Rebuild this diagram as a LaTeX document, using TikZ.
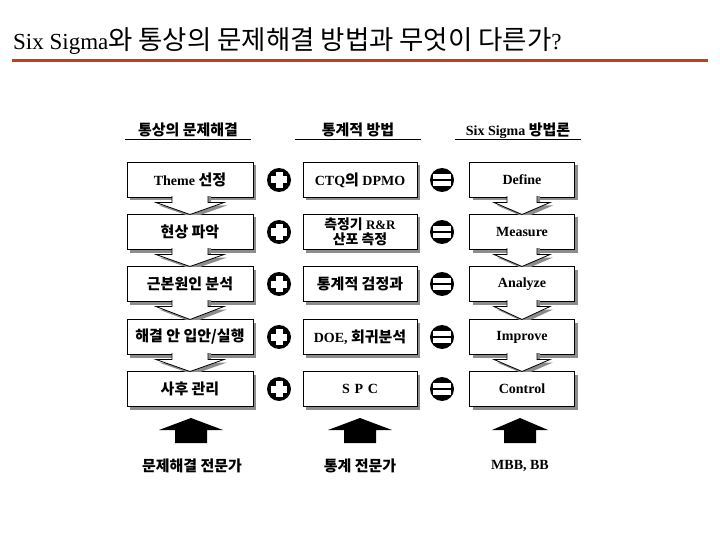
\documentclass[tikz,border=0pt]{standalone}
\usepackage{fontspec}
\setmainfont{Liberation Serif}
\newfontfamily\kr[Scale=1.07]{Noto Sans CJK KR}
\usepackage{tikz}
\usetikzlibrary{positioning,shadows}
\definecolor{titlerule}{RGB}{192,64,24}
\definecolor{shadegray}{RGB}{140,140,140}

\tikzset{
  stepbox/.style={draw, fill=white, line width=0.8pt, minimum height=35pt,
    align=center, inner sep=2pt, font=\fontsize{14}{15}\selectfont\bfseries,
    drop shadow={shadow xshift=3pt,shadow yshift=-3pt,fill=shadegray,opacity=1}},
  leftbox/.style={stepbox, minimum width=126pt},
  midbox/.style={stepbox, minimum width=114pt},
  rightbox/.style={stepbox, minimum width=105pt},
  chevron/.style={draw, fill=white, line width=0.8pt,
    drop shadow={shadow xshift=3pt,shadow yshift=-3pt,fill=shadegray,opacity=1}},
  colhead/.style={font=\fontsize{14}{15}\selectfont\bfseries, minimum width=126pt,
    inner xsep=0pt, inner ysep=2pt, text height=11pt, text depth=2pt},
  expert/.style={font=\fontsize{14}{15}\selectfont\bfseries},
  plusop/.style={circle, fill=black, minimum size=24pt, inner sep=0pt,
    path picture={
      \fill[white] ([shift={(-8pt,-3.5pt)}]path picture bounding box.center)
        rectangle ([shift={(8pt,3.5pt)}]path picture bounding box.center);
      \fill[white] ([shift={(-3.5pt,-8pt)}]path picture bounding box.center)
        rectangle ([shift={(3.5pt,8pt)}]path picture bounding box.center);}},
  equalop/.style={circle, fill=black, minimum size=24pt, inner sep=0pt,
    path picture={
      \fill[white] ([shift={(-9pt,-6pt)}]path picture bounding box.center)
        rectangle ([shift={(9pt,6pt)}]path picture bounding box.center);
      \fill[black] ([shift={(-9pt,-1pt)}]path picture bounding box.center)
        rectangle ([shift={(9pt,1pt)}]path picture bounding box.center);}}
}

\begin{document}
\begin{tikzpicture}[x=1pt,y=-1pt]
\useasboundingbox[fill=white] (0,0) rectangle (720,540);

% title and rule
\node[anchor=base west, inner sep=0pt, font=\fontsize{23}{28}\selectfont] (title) at (13,50)
  {Six Sigma{\kr\fontsize{24.7}{28}\selectfont 와 통상의 문제해결 방법과 무엇이 다른가}?};
\draw[titlerule, line width=3.5pt] (12,60.5) -- (708,60.5);

% column heads
\node[colhead] (head1) at (188,131) {\kr 통상의 문제해결};
\node[colhead] (head2) at (358,131) {\kr 통계적 방법};
\node[colhead] (head3) at (518,131) {Six Sigma {\kr 방법론}};
\foreach \h in {head1,head2,head3}
  \draw[line width=0.8pt] (\h.south west) -- (\h.south east);

% usual problem solving
\node[leftbox] (usual1) at (190,180) {Theme {\kr 선정}};
\node[leftbox] (usual2) at (190,232) {\kr 현상 파악};
\node[leftbox] (usual3) at (190,284) {\kr 근본원인 분석};
\node[leftbox] (usual4) at (190,337) {\kr 해결 안 입안/실행};
\node[leftbox] (usual5) at (190,389) {\kr 사후 관리};

% statistical methods
\node[midbox] (stat1) at (360,180) {CTQ{\kr 의} DPMO};
\node[midbox, font=\fontsize{13}{15.5}\selectfont\bfseries] (stat2) at (360,232)
  {{\kr 측정기} R\&R\\{\kr 산포 측정}};
\node[midbox] (stat3) at (360,284) {\kr 통계적 검정과};
\node[midbox] (stat4) at (360,337) {DOE, {\kr 회귀분석}};
\node[midbox] (stat5) at (360,389) {S\,\,P\,\,C};

% six sigma
\node[rightbox] (dmaic1) at (522,180) {Define};
\node[rightbox] (dmaic2) at (522,232) {Measure};
\node[rightbox] (dmaic3) at (522,284) {Analyze};
\node[rightbox] (dmaic4) at (522,337) {Improve};
\node[rightbox] (dmaic5) at (522,389) {Control};

% chevrons between the steps
\foreach \cx/\sw/\ww in {190/18/34,522/15/28}
  \foreach \ya/\yb in {180/232,232/284,284/337,337/389} {
    \begin{scope}
      \clip (\cx-45,\ya+16.8) rectangle (\cx+45,\yb-17.5);
      \draw[chevron] (\cx-\sw,\ya+10) -- (\cx-\sw,\ya+22.5) -- (\cx-\ww,\ya+22.5)
        -- (\cx,\yb-17.5) -- (\cx+\ww,\ya+22.5) -- (\cx+\sw,\ya+22.5) -- (\cx+\sw,\ya+10);
    \end{scope}
  }

% plus and equal signs
\foreach \y [count=\i] in {180,232,284,337,389} {
  \node[plusop] (plus\i) at (279,\y) {};
  \node[equalop] (equal\i) at (442,\y) {};
}

% experts
\foreach \cx/\hw in {191/32,360/32,520/28}
  \fill (\cx-\hw,430) -- (\cx,418) -- (\cx+\hw,430) -- (\cx+16,430)
    -- (\cx+16,443) -- (\cx-16,443) -- (\cx-16,430) -- cycle;
\node[expert] (expert1) at (192,466) {\kr 문제해결 전문가};
\node[expert] (expert2) at (360,466) {\kr 통계 전문가};
\node[expert] (expert3) at (520,466) {MBB, BB};
\end{tikzpicture}
\end{document}
